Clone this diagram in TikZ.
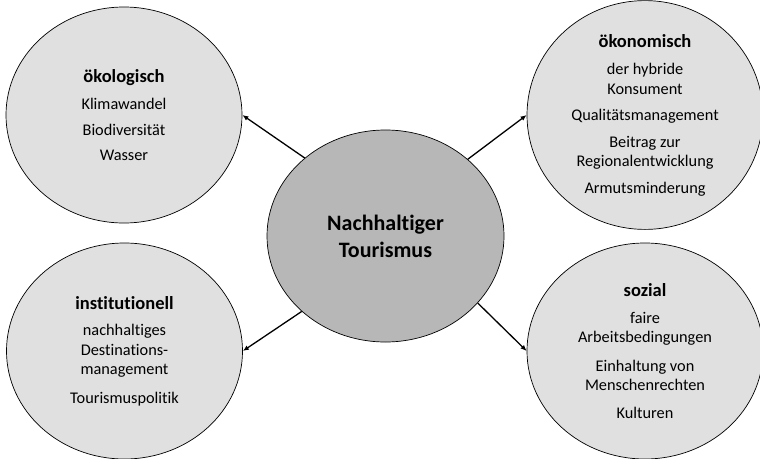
\documentclass[tikz,border=0pt]{standalone}
\usepackage{fontspec}
\setmainfont{Carlito}[Ligatures=NoCommon]
\usetikzlibrary{shapes.geometric,arrows.meta}
\definecolor{sidefill}{RGB}{224,224,224}
\definecolor{hubfill}{RGB}{183,183,183}
\tikzset{
  aspect/.style={ellipse, draw=black, line width=0.7pt, fill=sidefill,
    minimum width=236pt, minimum height=216pt, inner sep=0pt,
    align=center, font=\fontsize{16.3}{19.5}\selectfont},
  hub/.style={ellipse, draw=black, line width=0.7pt, fill=hubfill,
    minimum width=237pt, minimum height=212pt, inner sep=0pt,
    align=center, font=\fontsize{22}{27}\selectfont\bfseries},
  link/.style={line width=1.3pt, -{Latex[length=6pt,width=5pt]}}
}
% bold heading inside an aspect ellipse
\newcommand{\hd}[1]{{\fontsize{18.5}{19.5}\selectfont\bfseries #1}}
\begin{document}
\begin{tikzpicture}[x=1pt,y=-1pt]
  \useasboundingbox (0,0) rectangle (760,458);
  % the four dimensions
  \node[aspect] (oeko) at (124,115)
    {\hd{ökologisch}\\[8pt]Klimawandel\\[6pt]Biodiversität\\[6pt]Wasser};
  \node[aspect] (wirt) at (645,115)
    {\hd{ökonomisch}\\[8pt]der hybride\\Konsument\\[7pt]Qualitätsmanagement\\[7pt]Beitrag zur\\Regionalentwicklung\\[7pt]Armutsminderung};
  \node[aspect] (inst) at (124.5,351)
    {\hd{institutionell}\\[7pt]nachhaltiges\\Destinations-\\management\\[9pt]Tourismuspolitik};
  \node[aspect] (soz) at (645,351)
    {\hd{sozial}\\[7pt]faire\\Arbeitsbedingungen\\[9pt]Einhaltung von\\Menschenrechten\\[8pt]Kulturen};
  % central concept
  \node[hub] (nt) at (385.5,236) {Nachhaltiger\\Tourismus};
  % connectors
  \draw[link] (nt.136) -- (oeko.east);
  \draw[link] (nt.43) -- (wirt.west);
  \draw[link] (nt.-138) -- (inst.east);
  \draw[link] (nt.-36.5) -- (soz.west);
\end{tikzpicture}
\end{document}
